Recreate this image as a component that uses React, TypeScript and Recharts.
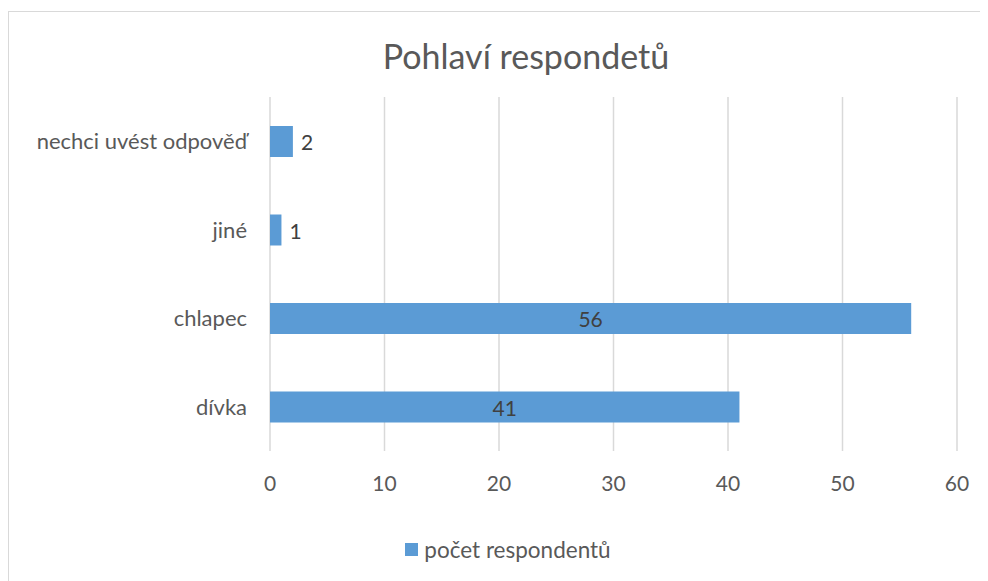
import { BarChart, Bar, XAxis, YAxis, CartesianGrid, Legend, LabelList } from "recharts";

const categories = ["nechci uvést odpověď", "jiné", "chlapec", "dívka"];
const counts = [2, 1, 56, 41];
const xTicks = [0, 10, 20, 30, 40, 50, 60];
const seriesName = "počet respondentů";
const chartTitle = "Pohlaví respondetů";

const data = categories.map((name, i) => ({ name, value: counts[i] }));

const FONT = "Lato, 'Open Sans', sans-serif";
const BLUE = "#5b9bd5";

// Excel "best fit": short bars get the label outside, long bars in the middle
function BarLabel(props: any) {
  const { x, y, width, height, value } = props;
  const outside = value < 5;
  return (
    <text
      x={outside ? x + width + 8 : x + width / 2}
      y={y + height / 2}
      textAnchor={outside ? "start" : "middle"}
      dominantBaseline="central"
      fontSize={21}
      fontFamily={FONT}
      fill="#404040"
    >
      {value}
    </text>
  );
}

function LegendContent() {
  return (
    <div
      style={{
        display: "flex",
        justifyContent: "center",
        alignItems: "center",
        paddingLeft: 50,
        fontFamily: FONT,
        fontSize: 22.5,
        color: "#595959",
      }}
    >
      <span style={{ width: 13, height: 13, background: BLUE, display: "inline-block", marginRight: 6 }} />
      <span>{seriesName}</span>
    </div>
  );
}

export default function App() {
  return (
    <div
      style={{
        position: "relative",
        marginTop: 3,
        width: 979,
        height: 569,
        borderTop: "1px solid #d9d9d9",
        borderLeft: "1px solid #d9d9d9",
        background: "#fff",
      }}
    >
      <div
        style={{
          position: "absolute",
          top: 23,
          left: 0,
          width: 1034,
          textAlign: "center",
          fontFamily: FONT,
          fontSize: 34,
          color: "#595959",
        }}
      >
        {chartTitle}
      </div>
      <BarChart
        width={979}
        height={569}
        data={data}
        layout="vertical"
        margin={{ top: 85, right: 31, left: 0, bottom: 18 }}
        barCategoryGap={0}
      >
        <CartesianGrid horizontal={false} stroke="#d9d9d9" strokeWidth={1.5} />
        <XAxis
          type="number"
          domain={[0, 60]}
          ticks={xTicks}
          axisLine={false}
          tickLine={false}
          tickMargin={19}
          height={85}
          tick={{ fontSize: 21, fontFamily: FONT, fill: "#595959" }}
        />
        <YAxis
          type="category"
          dataKey="name"
          width={261}
          axisLine={false}
          tickLine={false}
          tickMargin={17}
          tick={{ fontSize: 22, fontFamily: FONT, fill: "#595959" }}
        />
        <Legend verticalAlign="bottom" content={<LegendContent />} />
        <Bar dataKey="value" name={seriesName} fill={BLUE} barSize={31} isAnimationActive={false}>
          <LabelList dataKey="value" content={<BarLabel />} />
        </Bar>
      </BarChart>
    </div>
  );
}
